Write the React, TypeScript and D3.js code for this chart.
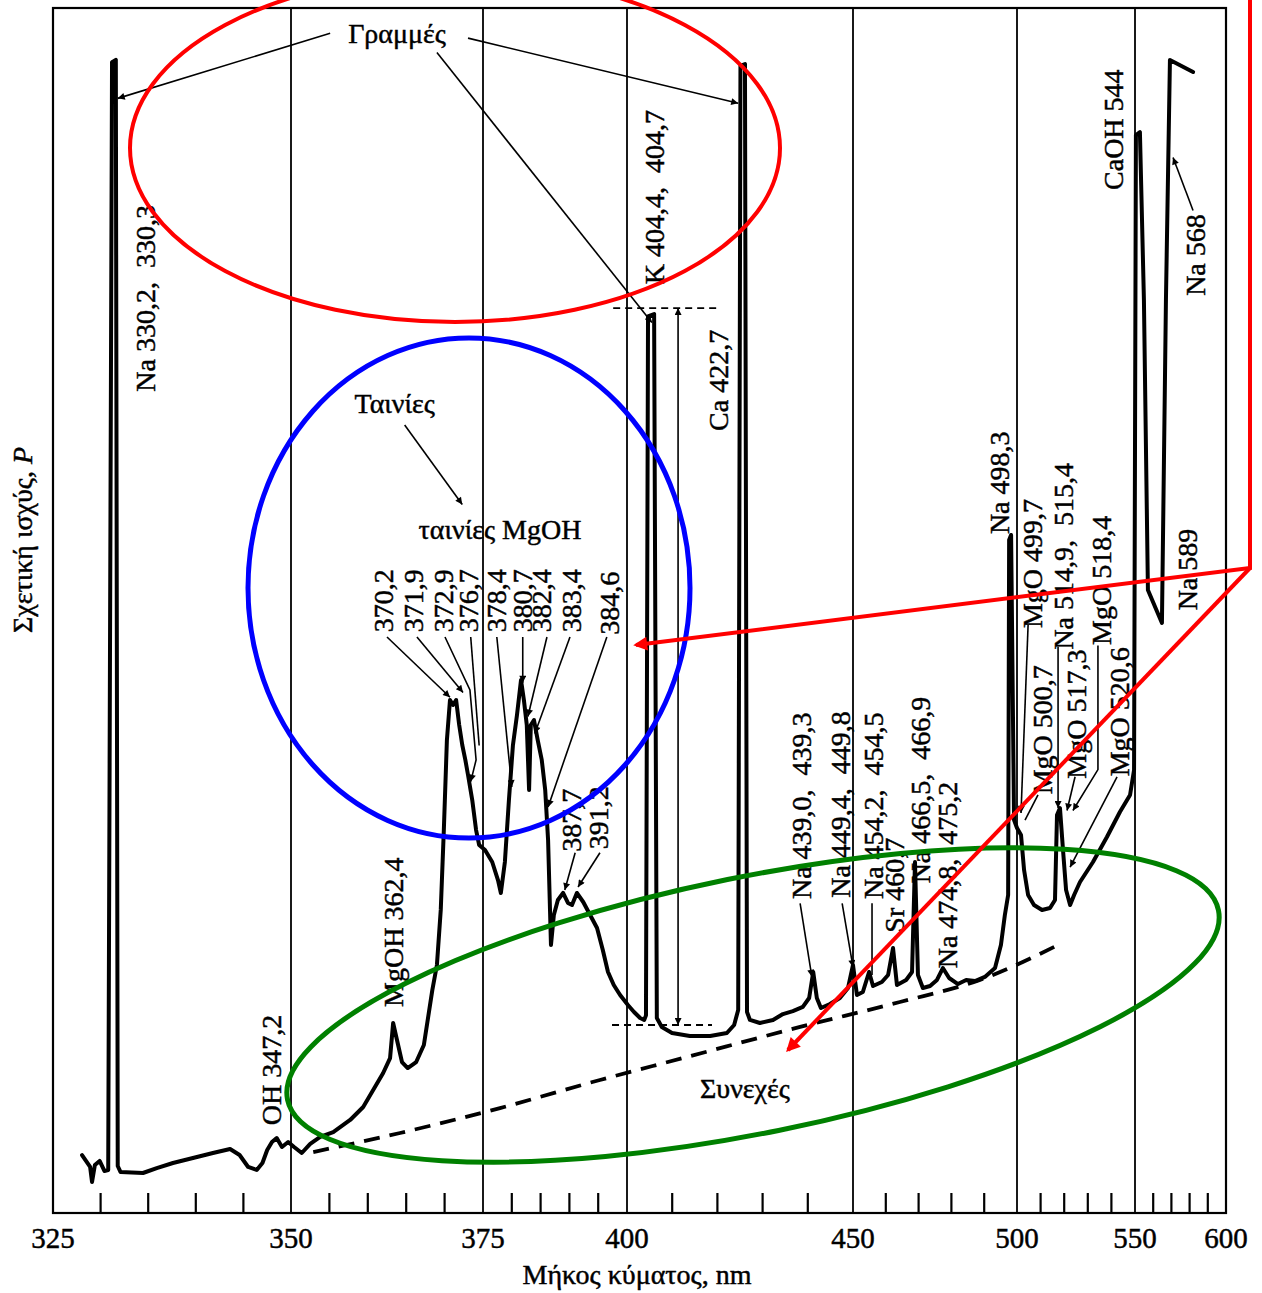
import React from "react";
import * as d3 from "d3";

// wavelength axis (nm) – prism spectrum, so the scale is piecewise
const tickLabels = [325, 350, 375, 400, 450, 500, 550, 600];
const gridLines = [350, 375, 400, 450, 500, 550];
const minorTicks = [330, 335, 340, 345, 355, 360, 365, 370, 380, 385, 390, 395, 410, 420, 430, 440,
  460, 470, 480, 490, 510, 520, 530, 540, 560, 570, 580, 590];

// [wavelength nm, relative power %]
const spectrum: [number, number][] = [
  [328.05, 4.81], [328.9, 3.82], [329.1, 2.57], [329.4, 3.98], [329.9, 4.32], [330.4, 3.49], [330.8, 3.57],
  [331.2, 95.5], [331.6, 95.7], [331.8, 3.9], [332.1, 3.4], [334.45, 3.32], [335.9, 3.73], [337.6, 4.15],
  [339.7, 4.56], [341.8, 4.98], [343.6, 5.31], [344.6, 4.81], [345.5, 3.82], [346.4, 3.57], [347.0, 4.15],
  [347.5, 5.23], [348.0, 5.89], [348.5, 6.22], [349.05, 5.48], [349.7, 5.89], [350.4, 5.48], [351.4, 4.98],
  [352.5, 5.73], [353.8, 6.31], [355.5, 6.72], [357.7, 7.72], [359.4, 8.8], [360.7, 10.21], [362.0, 11.62],
  [362.9, 12.86], [363.3, 15.77], [363.8, 14.36], [364.45, 12.53], [365.2, 12.03], [366.3, 12.53],
  [367.3, 13.94], [368.4, 18.5], [369.0, 20.58], [369.5, 25.15], [369.9, 31.78], [370.3, 39.25],
  [370.7, 42.57], [371.1, 42.16], [371.5, 42.57], [371.9, 40.5], [372.3, 38.84], [372.7, 37.6],
  [373.05, 36.35], [373.6, 34.27], [374.1, 31.78], [374.5, 30.54], [375.35, 30.12], [376.6, 29.13],
  [377.6, 27.63], [378.1, 26.56], [378.8, 29.13], [379.5, 34.27], [380.2, 38.84], [380.9, 41.33],
  [381.6, 44.23], [382.1, 42.57], [382.6, 40.5], [383.0, 35.1], [383.3, 40.5], [383.85, 40.91],
  [384.5, 39.25], [385.2, 37.6], [385.8, 35.1], [386.3, 30.95], [386.8, 22.24], [387.3, 24.73],
  [388.0, 25.98], [388.9, 26.56], [389.75, 25.73], [390.45, 25.56], [391.3, 26.56], [392.4, 25.81],
  [393.6, 24.73], [394.8, 23.65], [395.8, 21.83], [396.7, 20.0], [397.7, 18.92], [398.8, 18.09],
  [400.2, 17.26], [401.55, 16.68], [402.9, 16.18], [403.8, 16.02], [404.2, 16.4], [404.65, 74.4],
  [406.0, 74.6], [406.6, 16.18], [407.7, 15.44], [409.96, 14.94], [413.9, 14.69], [418.4, 14.69],
  [422.1, 14.94], [423.7, 15.6], [424.6, 16.85], [425.1, 95.2], [426.1, 95.35], [426.55, 16.68],
  [427.2, 16.02], [429.4, 15.77], [432.3, 16.02], [434.5, 16.51], [436.7, 16.76], [438.9, 17.1],
  [440.3, 17.84], [441.2, 20.0], [442.0, 17.84], [442.9, 17.01], [444.9, 17.34], [447.1, 17.84],
  [448.9, 18.67], [450.0, 20.58], [451.2, 18.09], [453.0, 18.34], [454.9, 20.0], [456.1, 18.84],
  [458.8, 19.17], [460.7, 19.75], [462.2, 21.99], [463.4, 18.92], [466.2, 19.34], [468.0, 20.0],
  [468.9, 29.13], [469.8, 19.75], [471.3, 18.67], [473.5, 18.84], [475.6, 19.34], [477.4, 20.33],
  [479.3, 19.5], [482.0, 19.0], [484.5, 19.34], [487.2, 19.25], [490.2, 19.59], [493.3, 20.33],
  [495.1, 22.24], [496.3, 24.73], [497.3, 26.39], [497.6, 55.85], [498.2, 56.27], [499.1, 32.61],
  [500.0, 31.95], [501.7, 31.37], [503.0, 28.46], [504.7, 26.39], [507.2, 25.56], [510.6, 25.15],
  [514.0, 25.31], [516.1, 25.98], [516.95, 33.03], [518.2, 33.61], [519.5, 30.12], [520.8, 26.8],
  [522.5, 25.56], [524.2, 26.39], [526.7, 27.47], [532.2, 29.13], [538.1, 31.2], [543.6, 33.28],
  [547.9, 34.69], [549.6, 36.76], [550.5, 89.46], [552.7, 89.7], [554.9, 75.77], [557.1, 51.7],
  [564.8, 48.96], [567.0, 75.77], [569.2, 95.68], [581.9, 94.69],
];

// continuum background (dashed)
const continuum: [number, number][] = [
  [352.9, 5.06], [364.2, 6.64], [377.95, 8.71], [395.3, 11.04], [412.4, 12.86],
  [438.3, 15.44], [464.3, 17.51], [488.7, 19.34], [517.4, 22.24],
];

// rotated line labels: text, wavelength, power
const lineLabels: [string, number, number][] = [
  ["Na 330,2,  330,3", 334.7, 75.9],
  ["OH 347,2", 348.0, 11.87],
  ["MgOH 362,4", 363.4, 23.3],
  ["K 404,4,  404,7", 406.0, 84.3],
  ["Ca 422,7", 420.35, 69.1],
  ["370,2", 362.0, 50.8],
  ["371,9", 365.9, 50.8],
  ["372,9", 369.8, 50.8],
  ["376,7", 373.05, 50.8],
  ["378,4", 377.4, 50.8],
  ["380,7", 381.8, 50.8],
  ["382,4", 385.1, 50.8],
  ["383,4", 390.45, 50.8],
  ["384,6", 396.9, 50.6],
  ["387,7", 390.45, 32.6],
  ["391,2", 395.1, 32.8],
  ["Na 439,0,  439,3", 438.5, 33.8],
  ["Na 449,4,  449,8", 447.3, 33.9],
  ["Na 454,2,  454,5", 456.1, 33.8],
  ["Sr 460,7", 462.5, 27.2],
  ["Na 466,5,  466,9", 470.7, 35.1],
  ["Na 474,8,  475,2", 478.7, 28.05],
  ["Na 498,3", 494.8, 60.6],
  ["MgO 499,7", 506.4, 53.9],
  ["MgO 500,7", 510.6, 40.1],
  ["Na 514,9,  515,4", 519.5, 54.5],
  ["MgO 517,3", 525.4, 41.4],
  ["MgO 518,4", 536.0, 52.5],
  ["MgO 520,6", 543.6, 41.6],
  ["CaOH 544", 541.1, 89.9],
  ["Na 568", 583.5, 79.5],
  ["Na 589", 578.6, 53.4],
];

const plainLabels: [string, number, number][] = [
  ["Γραμμές", 363.8, 97.9],
  ["Ταινίες", 363.5, 67.2],
  ["ταινίες MgOH", 377.95, 56.7],
  ["Συνεχές", 426.1, 10.37],
];

// leader lines: points, arrow head at end
const leaders: { pts: [number, number][]; head: boolean }[] = [
  { pts: [[355.1, 97.9], [331.8, 92.5]], head: true },
  { pts: [[373.05, 97.5], [424.6, 92.1]], head: true },
  { pts: [[369.0, 96.3], [405.5, 73.9]], head: true },
  { pts: [[364.8, 65.4], [372.3, 58.8]], head: true },
  { pts: [[362.5, 47.8], [370.7, 42.8]], head: true },
  { pts: [[366.4, 47.8], [372.4, 43.2]], head: true },
  { pts: [[370.05, 47.8], [373.3, 43.4], [374.1, 37.6], [373.4, 35.8]], head: true },
  { pts: [[373.4, 47.8], [374.5, 38.8]], head: false },
  { pts: [[377.4, 47.8], [380.0, 35.35]], head: true },
  { pts: [[381.9, 47.8], [381.9, 44.0]], head: true },
  { pts: [[386.1, 47.8], [382.8, 41.2]], head: true },
  { pts: [[390.1, 47.8], [384.0, 39.8]], head: true },
  { pts: [[396.5, 47.8], [386.3, 33.7]], head: true },
  { pts: [[391.0, 29.9], [389.2, 26.8]], head: true },
  { pts: [[395.3, 29.9], [391.5, 27.05]], head: true },
  { pts: [[438.3, 25.7], [440.9, 19.6]], head: true },
  { pts: [[447.6, 25.7], [450.0, 20.4]], head: true },
  { pts: [[455.8, 25.7], [455.8, 19.75]], head: false },
  { pts: [[504.7, 48.8], [501.7, 33.2]], head: true },
  { pts: [[508.9, 34.7], [503.4, 32.6]], head: false },
  { pts: [[517.4, 47.0], [517.4, 33.6]], head: true },
  { pts: [[524.6, 36.2], [521.2, 33.4]], head: true },
  { pts: [[534.3, 47.1], [534.3, 36.8], [523.7, 33.4]], head: true },
  { pts: [[542.4, 36.2], [522.5, 28.7]], head: true },
  { pts: [[581.9, 83.2], [570.9, 87.6]], head: true },
];

// K line height marker
const kTop = 75.1, kBase = 15.6;

const W = 1262, H = 1293;
const serif = "'Liberation Serif', 'Times New Roman', serif";

const App: React.FC = () => {
  const x = d3.scaleLinear()
    .domain([325, 350, 375, 400, 450, 500, 550, 600])
    .range([53, 291, 483, 627, 853, 1017, 1135, 1226]);
  const y = d3.scaleLinear().domain([0, 100]).range([1213, 8]);

  const line = d3.line<[number, number]>().x(d => x(d[0])).y(d => y(d[1]));
  const smooth = d3.line<[number, number]>().x(d => x(d[0])).y(d => y(d[1])).curve(d3.curveMonotoneX);

  return (
    <svg width={W} height={H} style={{ position: "absolute", left: 0, top: 0, background: "#fff" }}
      fontFamily={serif}>
      <defs>
        <marker id="ah" viewBox="0 0 10 10" refX="10" refY="5" markerWidth="13" markerHeight="7"
          markerUnits="userSpaceOnUse" orient="auto">
          <path d="M0,0 L10,5 L0,10 z" fill="#000" />
        </marker>
        <marker id="ah2" viewBox="0 0 10 10" refX="10" refY="5" markerWidth="13" markerHeight="7"
          markerUnits="userSpaceOnUse" orient="auto-start-reverse">
          <path d="M0,0 L10,5 L0,10 z" fill="#000" />
        </marker>
        <marker id="rh" viewBox="0 0 10 10" refX="8" refY="5" markerWidth="22" markerHeight="14"
          markerUnits="userSpaceOnUse" orient="auto">
          <path d="M0,0 L10,5 L0,10 z" fill="#ff0000" />
        </marker>
      </defs>

      {/* frame */}
      <rect x={x(325)} y={y(100)} width={x(600) - x(325)} height={y(0) - y(100)}
        fill="none" stroke="#000" strokeWidth={2.2} />
      {gridLines.map(g => (
        <line key={g} x1={x(g)} x2={x(g)} y1={y(0)} y2={y(100)} stroke="#000" strokeWidth={1.8} />
      ))}
      {minorTicks.map(t => (
        <line key={t} x1={x(t)} x2={x(t)} y1={y(0)} y2={y(0) - 20} stroke="#000" strokeWidth={2.2} />
      ))}

      <g stroke="#000" strokeWidth={0.45}>
        {tickLabels.map(t => (
          <text key={t} x={x(t)} y={y(0) + 35} textAnchor="middle" fontSize={29}>{t}</text>
        ))}
        <text x={637} y={1284} textAnchor="middle" fontSize={28}>Μήκος κύματος, nm</text>
        <text transform="translate(32,540) rotate(-90)" textAnchor="middle" fontSize={28}>
          Σχετική ισχύς, <tspan fontStyle="italic">P</tspan>
        </text>
      </g>

      {/* continuum */}
      <path d={smooth(continuum) || ""} fill="none" stroke="#000" strokeWidth={3.8}
        strokeDasharray="16 10" />

      {/* K height marker */}
      <line x1={x(397.6)} x2={x(419.9)} y1={y(kTop)} y2={y(kTop)} stroke="#000" strokeWidth={1.8} strokeDasharray="7 5" />
      <line x1={x(397.4)} x2={x(418.8)} y1={y(kBase)} y2={y(kBase)} stroke="#000" strokeWidth={1.8} strokeDasharray="7 5" />
      <line x1={x(411.3)} x2={x(411.3)} y1={y(kBase)} y2={y(kTop)} stroke="#000" strokeWidth={1.6}
        markerStart="url(#ah2)" markerEnd="url(#ah)" />

      {/* spectrum */}
      <path d={line(spectrum) || ""} fill="none" stroke="#000" strokeWidth={4}
        strokeLinejoin="round" strokeLinecap="round" />

      {/* leaders */}
      {leaders.map((l, i) => (
        <path key={i} d={line(l.pts) || ""} fill="none" stroke="#000" strokeWidth={1.6}
          markerEnd={l.head ? "url(#ah)" : undefined} />
      ))}

      {/* labels */}
      <g stroke="#000" strokeWidth={0.45}>
        {lineLabels.map(([t, w, p]) => (
          <text key={t} transform={`translate(${x(w)},${y(p)}) rotate(-90)`} textAnchor="middle"
            dominantBaseline="central" fontSize={28} style={{ whiteSpace: "pre" }}>{t}</text>
        ))}
        {plainLabels.map(([t, w, p]) => (
          <text key={t} x={x(w)} y={y(p)} textAnchor="middle" dominantBaseline="central" fontSize={28}>{t}</text>
        ))}
      </g>

      {/* coloured overlay */}
      <ellipse cx={455} cy={148} rx={325} ry={174} fill="none" stroke="#ff0000" strokeWidth={4} />
      <ellipse cx={469} cy={588} rx={221} ry={250} fill="none" stroke="#0000ff" strokeWidth={5} />
      <ellipse cx={753} cy={1005} rx={475} ry={128} transform="rotate(-11.5 753 1005)"
        fill="none" stroke="#008000" strokeWidth={5} />
      <polyline points="1250,0 1250,568 636,645" fill="none" stroke="#ff0000" strokeWidth={4}
        markerEnd="url(#rh)" />
      <line x1={1250} y1={568} x2={788} y2={1050} stroke="#ff0000" strokeWidth={4} markerEnd="url(#rh)" />
    </svg>
  );
};

export default App;
